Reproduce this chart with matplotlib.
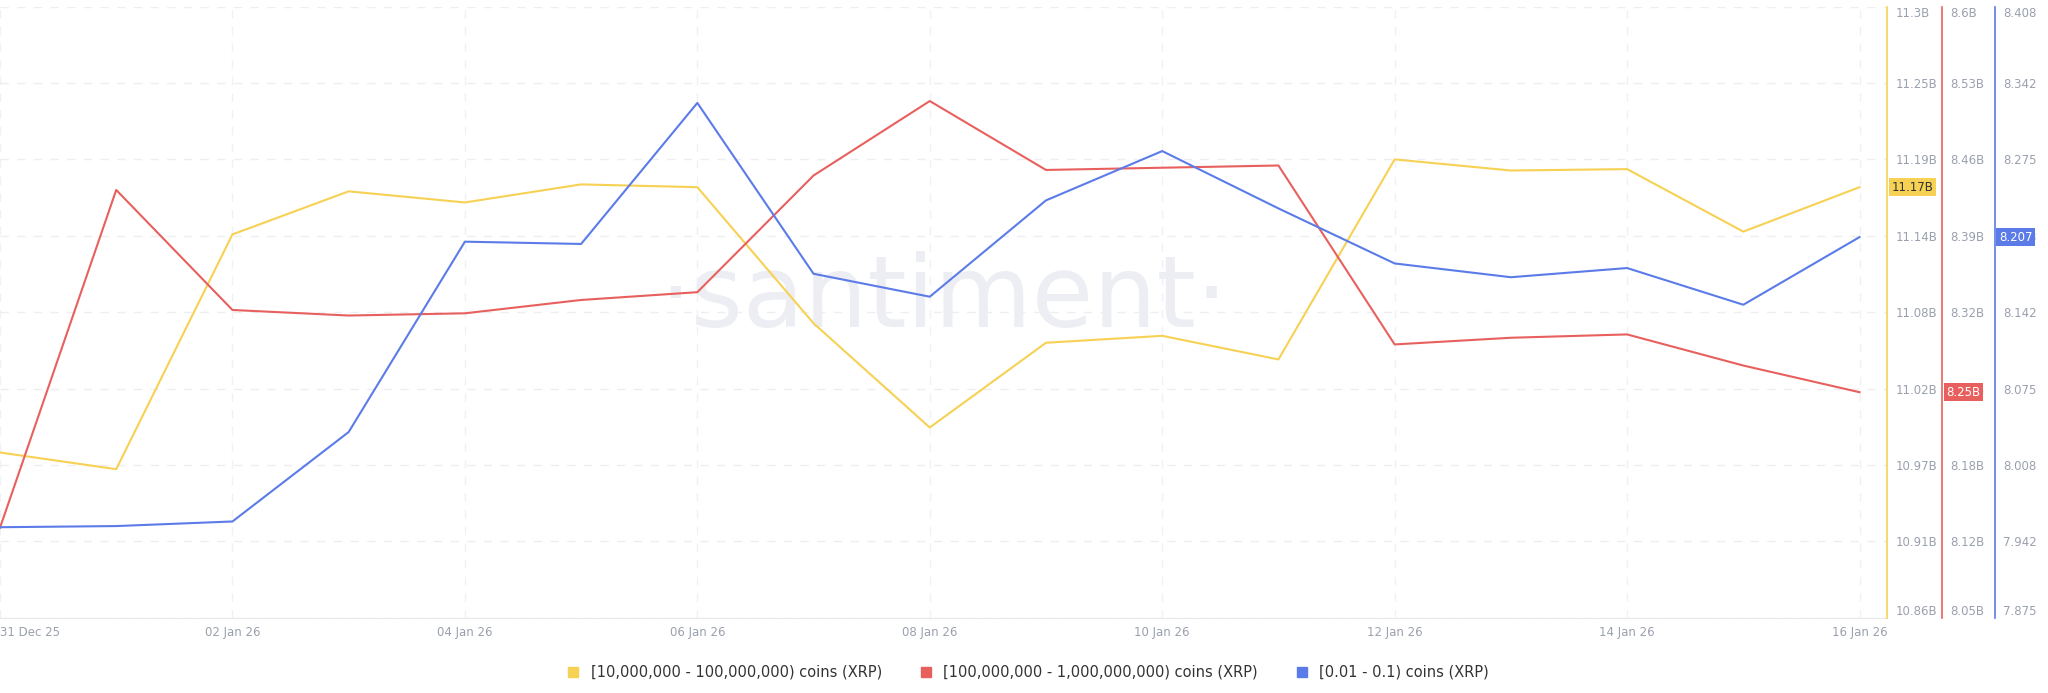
import matplotlib
matplotlib.use("Agg")
import matplotlib.pyplot as plt
import numpy as np

dates = ["31 Dec 25","01 Jan 26","02 Jan 26","03 Jan 26","04 Jan 26","05 Jan 26","06 Jan 26","07 Jan 26",
         "08 Jan 26","09 Jan 26","10 Jan 26","11 Jan 26","12 Jan 26","13 Jan 26","14 Jan 26","15 Jan 26","16 Jan 26"]
yellow = [10.979,10.967,11.136,11.167,11.159,11.172,11.170,11.072,10.997,11.058,11.063,11.046,11.190,11.182,11.183,11.138,11.170]
red = [8.131,8.435,8.327,8.322,8.324,8.336,8.343,8.448,8.515,8.453,8.455,8.457,8.296,8.302,8.305,8.277,8.253]
blue = [7.954,7.955,7.959,8.037,8.203,8.201,8.324,8.175,8.155,8.239,8.282,8.232,8.184,8.172,8.180,8.148,8.207]
y_ticks = ["10.86B","10.91B","10.97B","11.02B","11.08B","11.14B","11.19B","11.25B","11.3B"]
r_ticks = ["8.05B","8.12B","8.18B","8.25B","8.32B","8.39B","8.46B","8.53B","8.6B"]
b_ticks = ["7.875","7.942","8.008","8.075","8.142","8.208","8.275","8.342","8.408"]
labels = ["[10,000,000 - 100,000,000) coins (XRP)","[100,000,000 - 1,000,000,000) coins (XRP)","[0.01 - 0.1) coins (XRP)"]

cy, cr, cb = "#f7d154", "#e8605e", "#5b7be8"
grey = "#9aa0ad"

fig = plt.figure(figsize=(20.48, 6.93), dpi=100)
ax = fig.add_axes([0.0, 0.1085, 0.9216, 0.882])
x = np.arange(len(dates))
ax.set_xlim(0, 16.24)
for s in ax.spines.values():
    s.set_visible(False)
ax.spines["bottom"].set_visible(True)
ax.spines["bottom"].set_color("#e6e8ec")

def setup(a, lo, hi, labs, pos, col):
    a.set_ylim(lo, hi)
    a.set_yticks(np.linspace(lo, hi, len(labs)))
    a.set_yticklabels(labs)
    for k, s in a.spines.items():
        s.set_visible(False)
    a.spines["right"].set_visible(True)
    a.spines["right"].set_position(("axes", pos))
    a.spines["right"].set_color(col)
    a.spines["right"].set_linewidth(1.2)
    a.yaxis.set_ticks_position("right")
    a.tick_params(axis="y", length=0, pad=6, labelsize=8.5, labelcolor=grey)
    tl = a.get_yticklabels()
    tl[-1].set_verticalalignment("top")
    tl[0].set_verticalalignment("bottom")

ay = ax.twinx(); ar = ax.twinx(); ab = ax.twinx()
ax.set_yticks([])
setup(ay, 10.86, 11.30, y_ticks, 1.0, cy)
setup(ar, 8.05, 8.60, r_ticks, 1.0291, cr)
setup(ab, 7.875, 8.408, b_ticks, 1.0568, cb)

for v in np.linspace(10.86, 11.30, 9):
    ay.axhline(v, color="#eceef1", lw=1, ls=(0, (6, 6)), zorder=0)
for xi in range(0, 17, 2):
    ax.axvline(xi, color="#f0f1f4", lw=1, ls=(0, (6, 6)), zorder=0)

ax.set_xticks(range(0, 17, 2))
ax.set_xticklabels([dates[i] for i in range(0, 17, 2)])
ax.tick_params(axis="x", length=0, pad=6, labelsize=8.5, labelcolor=grey)
ax.get_xticklabels()[0].set_horizontalalignment("left")

ay.plot(x, yellow, color=cy, lw=1.5)
ar.plot(x, red, color=cr, lw=1.5)
ab.plot(x, blue, color=cb, lw=1.5)

ax.text(0.5, 0.52, "·santiment·", transform=ax.transAxes, ha="center", va="center",
        fontsize=72, color="#eceef3", zorder=0)

def badge(a, val, txt, col, pos, tc):
    a.annotate(txt, xy=(pos, val), xycoords=("axes fraction", "data"), xytext=(3, 0),
               textcoords="offset points", ha="left", va="center", fontsize=8.5, color=tc,
               bbox=dict(boxstyle="square,pad=0.2", fc=col, ec="none"))
badge(ay, yellow[-1], "11.17B", cy, 1.0, "#333333")
badge(ar, red[-1], "8.25B", cr, 1.0291, "white")
badge(ab, blue[-1], "8.207", cb, 1.0568, "white")

from matplotlib.lines import Line2D
handles = [Line2D([], [], marker="s", ls="none", color=c, markersize=7) for c in (cy, cr, cb)]
fig.legend(handles, labels, loc="lower center", ncol=3, frameon=False, fontsize=10.5,
           bbox_to_anchor=(0.5, 0.0), handletextpad=0.2, columnspacing=2, labelcolor="#333333")

fig.savefig("out.png", dpi=100, facecolor="white")
